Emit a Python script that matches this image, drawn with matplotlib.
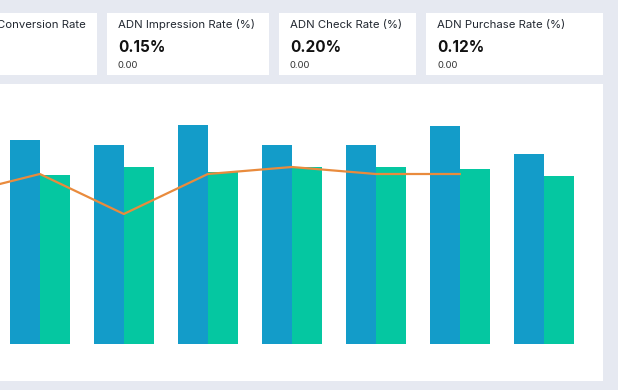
import numpy as np
import matplotlib.pyplot as plt
from matplotlib.patches import Rectangle

W, H = 618, 390

# data (first category is cut off on the left)
categories = ['c0', 'c1', 'c2', 'c3', 'c4', 'c5', 'c6', 'c7']
blue_vals = [np.nan, 2040, 1990, 2190, 1990, 1990, 2180, 1900]
green_vals = [np.nan, 1690, 1770, 1720, 1770, 1770, 1750, 1680]
rate_vals = [1.49, 1.70, 1.30, 1.70, 1.77, 1.70, 1.70, np.nan]

card_titles = ['Conversion Rate', 'ADN Impression Rate (%)', 'ADN Check Rate (%)', 'ADN Purchase Rate (%)']
card_values = ['', '0.15%', '0.20%', '0.12%']
card_subs = ['', '0.00', '0.00', '0.00']

BG = '#e6e9f1'
BLUE = '#139cc9'
GREEN = '#05c7a1'
ORANGE = '#e98b3d'

plt.rcParams['font.family'] = ['Inter', 'DejaVu Sans']


def frac(x, y, w, h):
    # pixel box (top-left origin) -> figure fraction
    return [x / W, 1 - (y + h) / H, w / W, h / H]


fig = plt.figure(figsize=(W / 100, H / 100), dpi=100)
fig.patch.set_facecolor(BG)

# kpi cards
cards = [(-70, 167), (107, 162), (279, 137), (426, 177)]
for i, (cx, cw) in enumerate(cards):
    fig.patches.append(Rectangle(frac(cx, 13, cw, 62)[:2], cw / W, 62 / H,
                                 transform=fig.transFigure, facecolor='white',
                                 edgecolor='none', zorder=-1))
    tx = cx + 11 if i > 0 else -3
    fig.text(tx / W, 1 - 28.3 / H, card_titles[i], fontsize=8.2, color='#222831', va='baseline')
    fig.text(tx / W, 1 - 51.7 / H, card_values[i], fontsize=11, fontweight='bold',
             color='#111111', va='baseline')
    fig.text(tx / W, 1 - 68.3 / H, card_subs[i], fontsize=6.8, color='#333333', va='baseline')

# chart panel (extends past the left edge, like the cropped dashboard)
px0, py0, pw, ph = -100, 84, 703, 297
ax = fig.add_axes(frac(px0, py0, pw, ph))
ax.set_facecolor('white')
x = np.arange(len(categories))
bw = 30 / 84
ax.bar(x - bw / 2, blue_vals, width=bw, color=BLUE, linewidth=0)
ax.bar(x + bw / 2, green_vals, width=bw, color=GREEN, linewidth=0)
step = 84.0
ax.set_xlim((px0 + 44.2) / step, (px0 + pw + 44.2) / step)
ax.set_ylim(-370, 2600)
for s in ax.spines.values():
    s.set_visible(False)
ax.set_xticks([])
ax.set_yticks([])

ax2 = ax.twinx()
ax2.plot(x, rate_vals, color=ORANGE, linewidth=1.6)
ax2.set_ylim(-0.37, 2.60)
ax2.axis('off')

fig.savefig('out.png', dpi=100, facecolor=BG)
